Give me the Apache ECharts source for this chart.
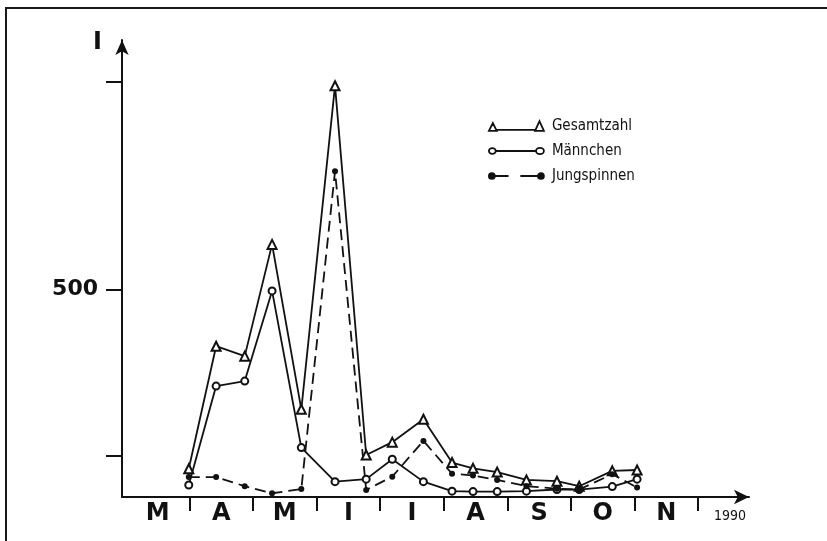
<!DOCTYPE html>
<html>
<head>
<meta charset="utf-8">
<script src="https://cdn.jsdelivr.net/npm/echarts@6/dist/echarts.min.js"></script>
<style>
  html, body { margin: 0; padding: 0; background: #fff; }
  #chart { width: 827px; height: 541px; position: relative; }
  #frame { position: absolute; left: 5px; top: 7px; width: 830px; height: 540px;
           border-top: 2px solid #1a1a1a; border-left: 2px solid #1a1a1a; pointer-events: none; }
</style>
</head>
<body>
<div id="chart"></div>
<div id="frame"></div>
<script>
// x positions: months elapsed since 1 March (M=0..1, A=1..2, ...)
const dates = [0.99, 1.42, 1.87, 2.30, 2.76, 3.29, 3.78, 4.19, 4.68, 5.13, 5.46, 5.84, 6.30, 6.78, 7.13, 7.65, 8.04];
const gesamtzahl  = [68, 363, 339, 608, 211, 990, 101, 132, 187, 83, 69, 60, 41, 38, 26, 63, 65];
const maennchen   = [29, 267, 279, 496, 119, 37, 43, 91, 37, 14, 13, 13, 14, 18, 18, 25, 43];
const jungspinnen = [48, 48, 26, 9, 19, 784, 17, 49, 135, 56, 52, 41, 26, 20, 18, 55, 23];
const monthLabels = ['M', 'A', 'M', 'I', 'I', 'A', 'S', 'O', 'N'];
const yearLabel = '1990';
const yTicks = [100, 500, 1000];
const yLabels = [500];
const seriesNames = ['Gesamtzahl', 'Männchen', 'Jungspinnen'];

const pair = arr => arr.map((v, i) => [dates[i], v]);
const monthTickValues = monthLabels.map((_, i) => i + 1);
const monthLabelValues = monthLabels.map((_, i) => i + 0.5).concat([monthLabels.length + 0.5]);

const chart = echarts.init(document.getElementById('chart'), null, { renderer: 'canvas' });
const ink = '#111';
const lblFont = '"DejaVu Sans", "Liberation Sans", sans-serif';
const narrow = '"Liberation Sans Narrow", "DejaVu Sans Condensed", "Liberation Sans", sans-serif';

chart.setOption({
  backgroundColor: '#fff',
  animation: false,
  grid: { left: 122, top: 40, right: 78, bottom: 44, containLabel: false },
  legend: {
    orient: 'vertical',
    left: 483,
    top: 113,
    itemWidth: 55,
    itemHeight: 12,
    itemGap: 9,
    textStyle: { fontFamily: narrow, fontSize: 15, color: ink, padding: [0, 0, 0, 3], lineHeight: 16 },
    data: [
      { name: seriesNames[0], icon: 'path://M0,11 L4,3 L8,11 Z M8,10 L47,10 M47,11 L51.5,1 L56,11 Z',
        itemStyle: { color: '#fff', borderColor: ink, borderWidth: 1.8 } },
      { name: seriesNames[1], icon: 'path://M0,6 A3.5,3 0 1 1 7,6 A3.5,3 0 1 1 0,6 Z M7,6 L48,6 M48,6 A4,3.2 0 1 1 56,6 A4,3.2 0 1 1 48,6 Z',
        itemStyle: { color: '#fff', borderColor: ink, borderWidth: 1.8 } },
      { name: seriesNames[2], icon: 'path://M0,6 A3,3 0 1 1 6,6 A3,3 0 1 1 0,6 Z M6,6 L20,6 M32,6 L50,6 M50,6 A3,3 0 1 1 56,6 A3,3 0 1 1 50,6 Z',
        itemStyle: { color: ink, borderColor: ink, borderWidth: 1.8 } }
    ]
  },
  xAxis: {
    type: 'value',
    min: -0.06,
    max: 9.8,
    axisLine: { onZero: false, lineStyle: { color: ink, width: 2 }, symbol: ['none', 'arrow'], symbolSize: [11, 15] },
    axisTick: { show: true, customValues: monthTickValues, length: 14, lineStyle: { color: ink, width: 2 } },
    splitLine: { show: false },
    axisLabel: {
      customValues: monthLabelValues,
      margin: 5,
      formatter: v => {
        const i = Math.round(v - 0.5);
        if (i < monthLabels.length) return '{m|' + monthLabels[i] + '}';
        return '{y|' + yearLabel + '}';
      },
      rich: {
        m: { fontFamily: lblFont, fontWeight: 'bold', fontSize: 24, color: ink, lineHeight: 24 },
        y: { fontFamily: narrow, fontSize: 14, color: ink, padding: [4, 0, 0, 0], lineHeight: 24 }
      }
    }
  },
  yAxis: {
    type: 'value',
    min: 0,
    max: 1100,
    name: 'I',
    nameLocation: 'end',
    nameGap: -15,
    nameTextStyle: { fontFamily: lblFont, fontWeight: 'bold', fontSize: 24, color: ink, align: 'right', padding: [0, 20, 0, 0] },
    axisLine: { show: true, onZero: false, lineStyle: { color: ink, width: 2 }, symbol: ['none', 'arrow'], symbolSize: [10, 15] },
    axisTick: { show: true, customValues: yTicks, length: 16, lineStyle: { color: ink, width: 2 } },
    axisLabel: { customValues: yLabels, margin: 24, fontFamily: lblFont, fontWeight: 'bold', fontSize: 22, color: ink },
    splitLine: { show: false }
  },
  series: [
    {
      name: seriesNames[0], type: 'line', data: pair(gesamtzahl),
      symbol: 'emptyTriangle', symbolSize: 9,
      lineStyle: { color: ink, width: 1.8 },
      itemStyle: { color: ink, borderWidth: 1.8 }
    },
    {
      name: seriesNames[1], type: 'line', data: pair(maennchen),
      symbol: 'emptyCircle', symbolSize: 7,
      lineStyle: { color: ink, width: 1.8 },
      itemStyle: { color: ink, borderWidth: 1.8 }
    },
    {
      name: seriesNames[2], type: 'line', data: pair(jungspinnen),
      symbol: 'circle', symbolSize: 6,
      lineStyle: { color: ink, width: 1.8, type: [11, 6] },
      itemStyle: { color: ink }
    }
  ]
});
</script>
</body>
</html>
